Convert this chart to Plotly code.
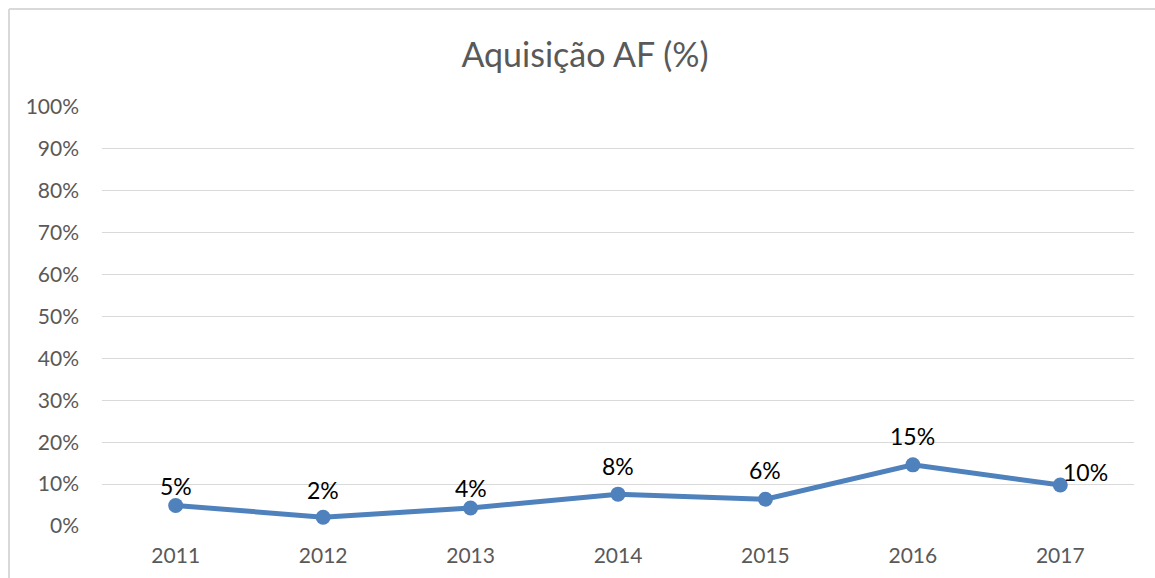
import plotly.graph_objects as go

# Chart data
years = ["2011", "2012", "2013", "2014", "2015", "2016", "2017"]
aquisicao = [0.049, 0.021, 0.043, 0.076, 0.064, 0.146, 0.098]
y_ticks = [i / 10 for i in range(11)]

# Label offsets (pixels) relative to each point
label_dx = [0, 0, 0, 0, 0, 0, 25]
label_dy = [19, 27, 20, 28, 29, 29, 13]

FONT = "Lato, Carlito, Calibri, sans-serif"

fig = go.Figure()
fig.add_trace(go.Scatter(
    x=years,
    y=aquisicao,
    mode="lines+markers",
    line=dict(color="#4f81bd", width=5),
    marker=dict(color="#4f81bd", size=15),
    cliponaxis=False,
    showlegend=False,
))

# Value labels, placed by category index on the x axis
annotations = [
    dict(x=i, y=v, xref="x", yref="y", text=f"{v:.0%}", showarrow=False,
         xshift=dx, yshift=dy, xanchor="center", yanchor="middle",
         font=dict(family=FONT, size=23, color="#000000"))
    for i, (v, dx, dy) in enumerate(zip(aquisicao, label_dx, label_dy))
]

fig.update_layout(
    width=1155,
    height=578,
    paper_bgcolor="white",
    plot_bgcolor="white",
    margin=dict(l=102, r=21, t=107, b=52),
    title=dict(
        text="Aquisição AF (%)",
        x=0.5065, xanchor="center",
        y=1 - 55 / 578, yanchor="middle",
        font=dict(family=FONT, size=34, color="#595959"),
    ),
    xaxis=dict(
        type="category",
        range=[-0.5, 6.5],
        showgrid=False,
        zeroline=False,
        showline=False,
        ticks="",
        automargin=False,
        tickfont=dict(family=FONT, size=21, color="#595959"),
        ticklabelstandoff=15,
    ),
    yaxis=dict(
        range=[0, 1],
        tickvals=y_ticks,
        tickformat=".0%",
        showgrid=True,
        gridcolor="#d9d9d9",
        gridwidth=1.3,
        zeroline=False,
        showline=False,
        ticks="",
        automargin=False,
        tickfont=dict(family=FONT, size=21, color="#595959"),
        ticklabelstandoff=22,
    ),
    annotations=annotations,
    shapes=[
        # chart frame
        dict(type="line", xref="paper", yref="paper",
             x0=-93 / 1032, x1=1060 / 1032, y0=1 + 98 / 419, y1=1 + 98 / 419,
             line=dict(color="#d9d9d9", width=2)),
        dict(type="line", xref="paper", yref="paper",
             x0=-93 / 1032, x1=-93 / 1032, y0=1 + 98 / 419, y1=-60 / 419,
             line=dict(color="#d9d9d9", width=2)),
    ],
)

fig.write_html("out.html")
